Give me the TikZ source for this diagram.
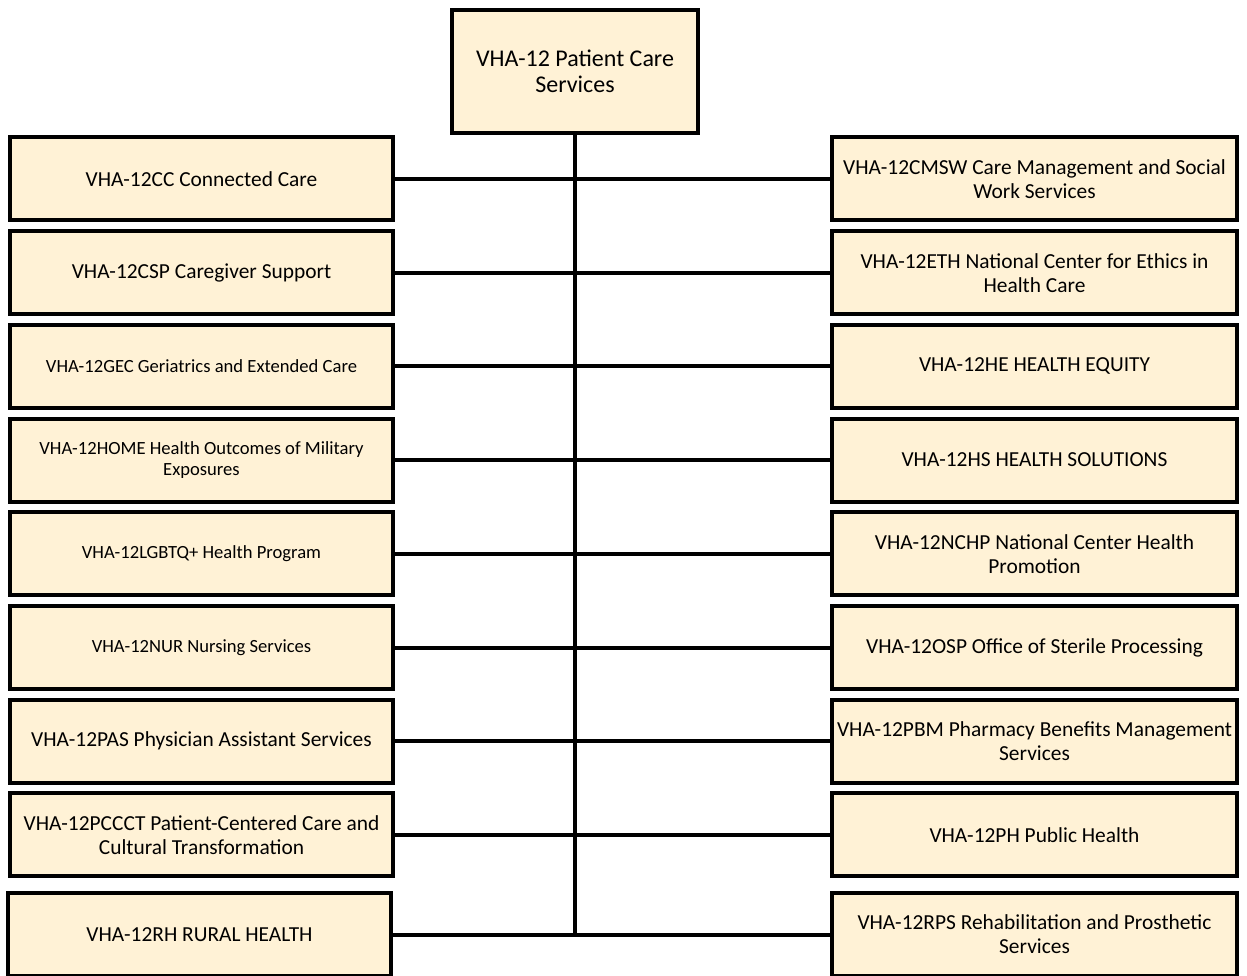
\documentclass[tikz,border=0pt]{standalone}
\usepackage{fontspec}
\setmainfont{Carlito}
\definecolor{cream}{HTML}{FFF2D6}
\tikzset{
  box/.style={draw=black, line width=4pt, fill=cream, align=center, inner sep=2pt},
  lbox/.style={box, minimum width=383pt, minimum height=83pt},
  rbox/.style={box, minimum width=405pt, minimum height=83pt},
  topbox/.style={box, minimum width=246pt, minimum height=123pt, font=\fontsize{24}{26}\selectfont},
  big/.style={font=\fontsize{21.4}{24}\selectfont},
  small/.style={font=\fontsize{18.6}{21}\selectfont},
  conn/.style={line width=4pt, black}
}
\begin{document}
\begin{tikzpicture}[x=1pt,y=-1pt]
\useasboundingbox (0,0) rectangle (1247,976);
\fill[white] (0,0) rectangle (1247,976);
\clip (0,0) rectangle (1247,976);
\node[topbox] (top) at (575,71.5) {VHA-12 Patient Care\\Services};
% left column
\node[lbox,big]   (L1) at (201.5,179)   {VHA-12CC Connected Care};
\node[lbox,big]   (L2) at (201.5,272.7) {VHA-12CSP Caregiver Support};
\node[lbox,small] (L3) at (201.5,366.4) {VHA-12GEC Geriatrics and Extended Care};
\node[lbox,small] (L4) at (201.5,460.1) {VHA-12HOME Health Outcomes of Military\\Exposures};
\node[lbox,small] (L5) at (201.5,553.8) {VHA-12LGBTQ+ Health Program};
\node[lbox,small] (L6) at (201.5,647.5) {VHA-12NUR Nursing Services};
\node[lbox,big]   (L7) at (201.5,741.2) {VHA-12PAS Physician Assistant Services};
\node[lbox,big]   (L8) at (201.5,834.9) {VHA-12PCCCT Patient-Centered Care and\\Cultural Transformation};
\node[lbox,big]   (L9) at (199.5,934.5) {VHA-12RH RURAL HEALTH};
% right column
\node[rbox,big] (R1) at (1034.5,179)   {VHA-12CMSW Care Management and Social\\Work Services};
\node[rbox,big] (R2) at (1034.5,272.7) {VHA-12ETH National Center for Ethics in\\Health Care};
\node[rbox,big] (R3) at (1034.5,366.4) {VHA-12HE HEALTH EQUITY};
\node[rbox,big] (R4) at (1034.5,460.1) {VHA-12HS HEALTH SOLUTIONS};
\node[rbox,big] (R5) at (1034.5,553.8) {VHA-12NCHP National Center Health\\Promotion};
\node[rbox,big] (R6) at (1034.5,647.5) {VHA-12OSP Office of Sterile Processing};
\node[rbox,big] (R7) at (1034.5,741.2) {VHA-12PBM Pharmacy Benefits Management\\Services};
\node[rbox,big] (R8) at (1034.5,834.9) {VHA-12PH Public Health};
\node[rbox,big] (R9) at (1034.5,934.5) {VHA-12RPS Rehabilitation and Prosthetic\\Services};
% connectors
\draw[conn] (top.south) -- (top.south |- L9.east);
\foreach \i in {1,...,9}{
  \draw[conn] (L\i.east) -- (R\i.west);
}
\end{tikzpicture}
\end{document}
